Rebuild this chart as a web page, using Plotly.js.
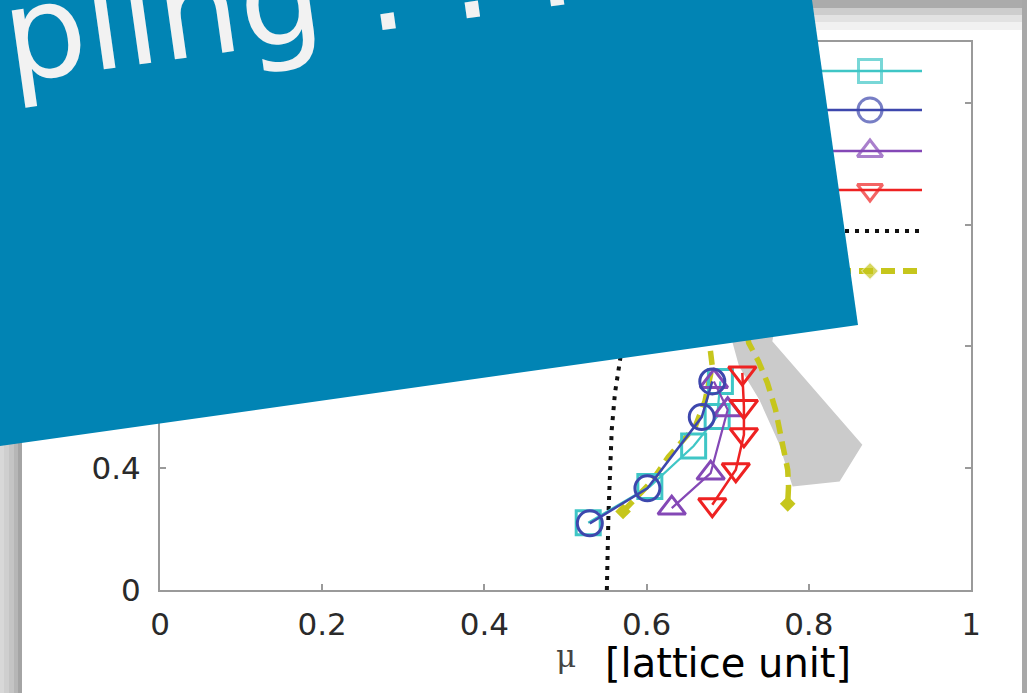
<!DOCTYPE html>
<html><head><meta charset="utf-8">
<script src="https://cdn.plot.ly/plotly-3.0.1.min.js"></script>
<style>html,body{margin:0;padding:0;background:#fff;overflow:hidden}#chart{width:1027px;height:693px}</style>
</head><body><div id="chart"></div>
<script>
// ---- data ----
const sqX = [0.528, 0.604, 0.658, 0.687, 0.691];
const sqY = [0.221, 0.340, 0.473, 0.570, 0.685];
const ciX = [0.530, 0.601, 0.668, 0.681];
const ciY = [0.219, 0.334, 0.568, 0.685];
const tuX = [0.631, 0.679, 0.700, 0.683];
const tuY = [0.269, 0.384, 0.592, 0.685];
const tdX = [0.681, 0.710, 0.720, 0.720, 0.718];
const tdY = [0.280, 0.395, 0.510, 0.603, 0.713];
const dotX = [0.551, 0.552, 0.553, 0.557, 0.561, 0.567, 0.575];
const dotY = [0.000, 0.150, 0.252, 0.526, 0.647, 0.751, 0.900];
const ylwX = [0.571, 0.606, 0.627, 0.660, 0.672, 0.681, 0.678, 0.675, 0.720, 0.726, 0.738, 0.749, 0.759, 0.767, 0.774, 0.775, 0.774];
const ylwY = [0.258, 0.356, 0.438, 0.537, 0.620, 0.735, 0.800, 0.900, 0.900, 0.811, 0.751, 0.680, 0.592, 0.493, 0.395, 0.340, 0.283];
const bandX = [0.700, 0.705, 0.714, 0.739, 0.763, 0.780, 0.838, 0.866, 0.755, 0.765];
const bandY = [0.950, 0.822, 0.735, 0.625, 0.483, 0.340, 0.356, 0.477, 0.817, 0.950];
const xTicks = [0, 0.2, 0.4, 0.6, 0.8, 1];
const yTicks = [0, 0.4, 0.8, 1.2, 1.6];
const bannerText = "pling : : :";
const unitText = "[lattice unit]";
const muText = "μ";

// ---- colours ----
const cCyan = "#3fc6c6", cBlue = "#3d47ad", cPurple = "#8448b6", cRed = "#ee2222", cYel = "#c6c61c";

// ---- layout helpers (plot area in pixels) ----
const L = 160, R = 971, T = 42, B = 590;
const px = x => (x - L) / (R - L);
const py = y => (B - y) / (B - T);

const traces = [
  {x: bandX, y: bandY, mode: 'lines', fill: 'toself', fillcolor: '#cbcbcb', line: {width: 0, color: '#cbcbcb'}, hoverinfo: 'skip'},
  {x: dotX, y: dotY, mode: 'lines', line: {color: '#111', width: 4, dash: '4px,6px'}},
  {x: ylwX.slice(0, 8), y: ylwY.slice(0, 8), mode: 'lines', line: {color: cYel, width: 5.5, dash: '14px,8px'}},
  {x: ylwX.slice(8), y: ylwY.slice(8), mode: 'lines', line: {color: cYel, width: 5.5, dash: '14px,8px'}},
  {x: [ylwX[0], ylwX[16]], y: [ylwY[0], ylwY[16]], mode: 'markers', marker: {symbol: 'diamond', size: 12, color: cYel}},
  {x: sqX, y: sqY, mode: 'lines+markers', line: {color: cCyan, width: 2.2}, marker: {symbol: 'square-open', size: 24, color: cCyan, line: {width: 3, color: cCyan}}},
  {x: tuX, y: tuY, mode: 'lines+markers', line: {color: cPurple, width: 2.2}, marker: {symbol: 'triangle-up-open', size: 24, color: cPurple, line: {width: 3, color: cPurple}}},
  {x: tdX, y: tdY, mode: 'lines+markers', line: {color: cRed, width: 2.5}, marker: {symbol: 'triangle-down-open', size: 24, color: cRed, line: {width: 3, color: cRed}}},
  {x: ciX, y: ciY, mode: 'lines+markers', line: {color: cBlue, width: 2.5}, marker: {symbol: 'circle-open', size: 25, color: cBlue, line: {width: 3, color: cBlue}}}
];

// legend samples (drawn on an overlay axis in plot-area fractions)
const legX0 = px(815), legXm = px(870), legX1 = px(922);
const legRows = [
  {y: py(71), c: cCyan, s: 'square-open', sz: 23},
  {y: py(110), c: cBlue, s: 'circle-open', sz: 24},
  {y: py(151), c: cPurple, s: 'triangle-up-open', sz: 22},
  {y: py(190), c: cRed, s: 'triangle-down-open', sz: 22}
];
legRows.forEach(r => traces.push({x: [legX0, legXm, legX1], y: [r.y, r.y, r.y], xaxis: 'x2', yaxis: 'y2', mode: 'lines+markers',
  line: {color: r.c, width: 2.5}, marker: {symbol: r.s, size: [0, r.sz, 0], color: r.c, line: {width: 3, color: r.c}}}));
traces.push({x: [legX0, legX1], y: [py(231), py(231)], xaxis: 'x2', yaxis: 'y2', mode: 'lines', line: {color: '#111', width: 4, dash: '4px,6px'}});
traces.push({x: [legX0, legXm, legX1], y: [py(271), py(271), py(271)], xaxis: 'x2', yaxis: 'y2', mode: 'lines+markers',
  line: {color: cYel, width: 6, dash: '14px,8px'}, marker: {symbol: 'diamond', size: [0, 13, 0], color: cYel}});

const rect = (x0, y0, x1, y1, c) => ({type: 'rect', xref: 'paper', yref: 'paper', x0: px(x0), x1: px(x1), y0: py(y0), y1: py(y1), fillcolor: c, line: {width: 0}, layer: 'above'});
const shapes = [
  rect(0, 0, 4, 693, '#d8d8d8'), rect(4, 0, 9, 693, '#cfcfcf'), rect(9, 0, 14, 693, '#c4c4c4'),
  rect(14, 0, 18, 693, '#b6b6b6'), rect(18, 0, 22, 693, '#a4a4a4'),
  rect(0, 0, 1027, 8, '#ababab'), rect(22, 8, 1022, 15, '#cdcdcd'), rect(22, 15, 1022, 22, '#e2e2e2'), rect(22, 22, 1022, 30, '#f1f1f1'),
  rect(1022, 0, 1027, 693, '#a8a8a8'),
  {type: 'path', xref: 'paper', yref: 'paper', layer: 'above', fillcolor: '#0184b4', line: {width: 0},
   path: `M ${px(-10)},${py(-10)} L ${px(810.6)},${py(-10)} L ${px(858)},${py(325)} L ${px(-10)},${py(447.4)} Z`}
];

const annotations = [
  {text: bannerText, xref: 'paper', yref: 'paper', x: px(288), y: py(-2), xanchor: 'center', yanchor: 'middle', textangle: -8,
   showarrow: false, font: {family: 'DejaVu Sans', size: 130, color: '#f2f2f2'}},
  {text: unitText, xref: 'paper', yref: 'paper', x: px(603), y: py(663), xanchor: 'left', yanchor: 'middle', showarrow: false,
   font: {family: 'DejaVu Sans', size: 40, color: '#000'}},
  {text: muText, xref: 'paper', yref: 'paper', x: px(566), y: py(656), xanchor: 'center', yanchor: 'middle', showarrow: false,
   font: {family: 'DejaVu Serif', size: 31, color: '#444'}}
];

const axBase = {showgrid: false, zeroline: false, showline: true, linecolor: '#9a9a9a', linewidth: 2, mirror: 'ticks',
  ticks: 'inside', ticklen: 6, tickwidth: 2, tickcolor: '#9a9a9a', tickfont: {family: 'DejaVu Sans', size: 31, color: '#2a2a2a'}};

const layout = {
  width: 1027, height: 693, margin: {l: L, r: 1027 - R, t: T, b: 693 - B},
  paper_bgcolor: '#fff', plot_bgcolor: '#fff', showlegend: false,
  xaxis: Object.assign({}, axBase, {range: [0, 1], tickvals: xTicks, ticklabelstandoff: 6}),
  yaxis: Object.assign({}, axBase, {range: [0, 1.8], tickvals: yTicks, ticklabelstandoff: 11}),
  xaxis2: {overlaying: 'x', anchor: 'y2', range: [0, 1], visible: false},
  yaxis2: {overlaying: 'y', anchor: 'x2', range: [0, 1], visible: false},
  shapes: shapes, annotations: annotations
};

Plotly.newPlot('chart', traces, layout, {staticPlot: true});
</script></body></html>
